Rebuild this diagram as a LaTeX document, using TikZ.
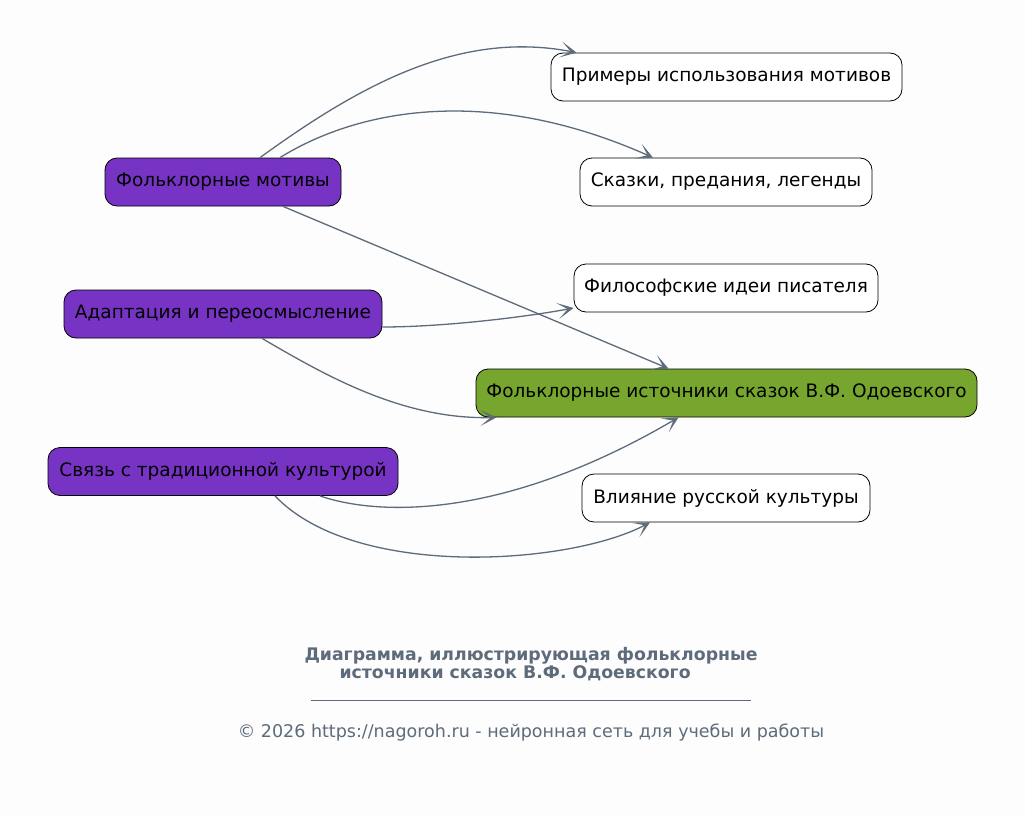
\documentclass[tikz,border=0pt]{standalone}
\usepackage{fontspec}
\setmainfont{DejaVu Sans}
\usetikzlibrary{arrows.meta}
\definecolor{bgc}{HTML}{FDFDFD}
\definecolor{purp}{HTML}{7733C4}
\definecolor{grn}{HTML}{77A62E}
\definecolor{edgec}{HTML}{5D6B7A}
\tikzset{
  box/.style={draw=black, line width=0.8pt, rounded corners=12pt, minimum height=48pt, inner sep=0pt, font=\fontsize{18.5}{22}\selectfont, text=black},
  src/.style={box, fill=purp},
  tgt/.style={box, fill=white},
  hub/.style={box, fill=grn},
  conn/.style={draw=edgec, line width=1.3pt, -{Stealth[length=16pt,width=16pt,inset=10pt]}},
}
\begin{document}
\begin{tikzpicture}[x=1pt,y=-1pt]
\useasboundingbox (0,0) rectangle (1025,816);
\fill[bgc] (0,0) rectangle (1025,816);
\node[src, minimum width=236pt] (fm) at (223,182) {Фольклорные мотивы};
\node[src, minimum width=318pt] (ad) at (223,314) {Адаптация и переосмысление};
\node[src, minimum width=350pt] (sv) at (223,471.5) {Связь с традиционной культурой};
\node[tgt, minimum width=351pt] (pr) at (726.5,77) {Примеры использования мотивов};
\node[tgt, minimum width=292pt] (sk) at (726,182) {Сказки, предания, легенды};
\node[tgt, minimum width=304pt] (fi) at (726,288) {Философские идеи писателя};
\node[hub, minimum width=501pt] (main) at (726.5,393) {Фольклорные источники сказок В.Ф. Одоевского};
\node[tgt, minimum width=288pt] (vl) at (726,498) {Влияние русской культуры};

\draw[conn] ([xshift=37pt]fm.north) .. controls (360,85) and (460,30) .. ([xshift=-150pt]pr.north);
\draw[conn] ([xshift=57pt]fm.north) .. controls (360,108) and (490,85) .. ([xshift=-73pt]sk.north);
\draw[conn] ([xshift=60pt]fm.south) -- ([xshift=-58pt]main.north);
\draw[conn] ([yshift=-13pt]ad.east) .. controls (440,327) and (520,318) .. ([yshift=-20pt]fi.west);
\draw[conn] ([xshift=39pt]ad.south) .. controls (320,372) and (400,420) .. ([xshift=-230pt]main.south);
\draw[conn] ([xshift=97pt]sv.south) .. controls (375,515) and (500,522) .. ([xshift=-48pt]main.south);
\draw[conn] ([xshift=52pt]sv.south) .. controls (355,580) and (570,565) .. ([xshift=-76pt]vl.south);

\node[text=edgec, font=\bfseries\fontsize{17.3}{20}\selectfont, anchor=base] (t1) at (531,660) {Диаграмма, иллюстрирующая фольклорные};
\node[text=edgec, font=\bfseries\fontsize{17.3}{20}\selectfont, anchor=base west] (t2) at (336,678) {источники сказок В.Ф. Одоевского};
\draw[edgec, line width=0.6pt] (311,700) -- (751,700);
\node[text=edgec, font=\fontsize{17.5}{20}\selectfont, anchor=base] (ft) at (531,737) {© 2026 https://nagoroh.ru - нейронная сеть для учебы и работы};
\end{tikzpicture}
\end{document}
